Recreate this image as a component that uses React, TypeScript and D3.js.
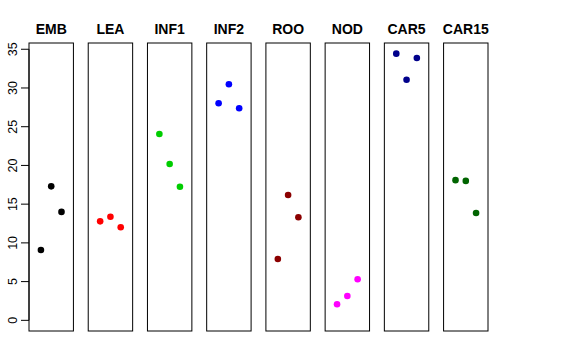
import React from "react";
import * as d3 from "d3";

const categories = ["EMB", "LEA", "INF1", "INF2", "ROO", "NOD", "CAR5", "CAR15"];
const colors = ["#000000", "#FF0000", "#00CD00", "#0000FF", "#8B0000", "#FF00FF", "#00008B", "#006400"];
const rep1 = [9.08, 12.78, 24.06, 28.02, 7.92, 2.07, 34.43, 18.1];
const rep2 = [17.3, 13.38, 20.19, 30.48, 16.18, 3.14, 31.07, 18.0];
const rep3 = [14.0, 12.01, 17.25, 27.38, 13.3, 5.3, 33.88, 13.86];
const yTicks = [0, 5, 10, 15, 20, 25, 30, 35];

export default function App() {
  const W = 576, H = 360;
  const top = 43, bottom = 331;
  const ymax = d3.max([...rep1, ...rep2, ...rep3]) as number;
  const ext = ymax * 0.04;
  const y = d3.scaleLinear().domain([-ext, ymax + ext]).range([bottom, top]);
  const band = d3.scaleBand<string>().domain(categories).range([29, 488]).paddingInner(0.25).paddingOuter(0);
  const bw = band.bandwidth();
  const xIn = d3.scaleLinear().domain([-0.16, 4.16]).range([0, bw]);
  const reps = [rep1, rep2, rep3];
  const left = band(categories[0]) as number;

  return (
    <svg width={W} height={H} style={{ position: "absolute", left: 0, top: 0, fontFamily: "Liberation Sans, Arial, sans-serif" }}>
      <rect x={0} y={0} width={W} height={H} fill="white" />
      <line x1={left} x2={left} y1={y(0)} y2={y(35)} stroke="black" />
      {yTicks.map((t) => (
        <g key={t}>
          <line x1={left - 8} x2={left} y1={y(t)} y2={y(t)} stroke="black" />
          <text
            transform={`translate(${16.5},${y(t)}) rotate(-90)`}
            textAnchor="middle"
            fontSize={12.5}
            fill="black"
          >
            {t}
          </text>
        </g>
      ))}
      {categories.map((c, i) => {
        const x0 = band(c) as number;
        return (
          <g key={c}>
            <rect x={x0} y={top} width={bw} height={bottom - top} fill="none" stroke="black" strokeWidth={1} />
            <text x={x0 + bw / 2} y={34} textAnchor="middle" fontSize={14} fontWeight="bold" fill="black">
              {c}
            </text>
            {reps.map((r, j) => (
              <circle key={j} cx={x0 + xIn(j + 1)} cy={y(r[i])} r={3.3} fill={colors[i]} />
            ))}
          </g>
        );
      })}
    </svg>
  );
}
